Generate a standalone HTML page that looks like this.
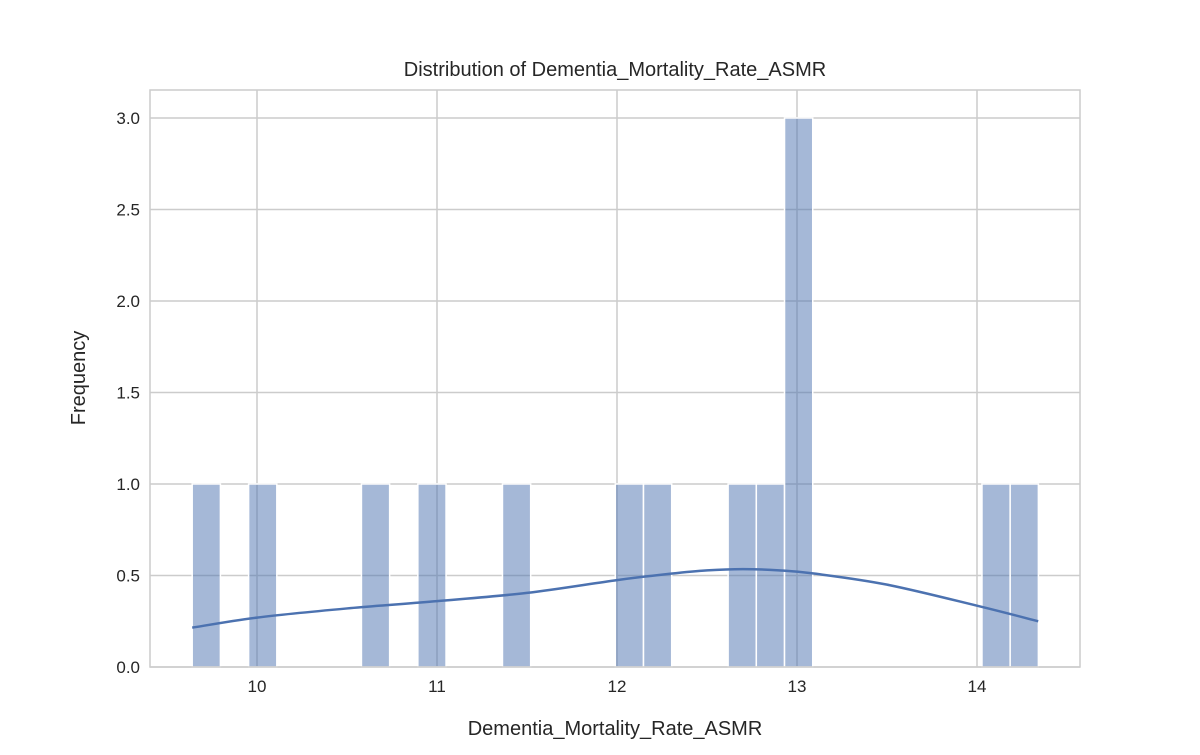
<!DOCTYPE html>
<html><head><meta charset="utf-8"><style>
body{margin:0;background:#fff;}
text{font-family:"Liberation Sans","DejaVu Sans",sans-serif;fill:#262626;}
</style></head><body>
<svg id="chart" width="1200" height="750">
<rect x="150" y="90" width="930" height="577" fill="#fff"/>
<g id="grid"></g>
<g id="bars"></g>
<path id="kde" fill="none" stroke="#4c72b0" stroke-width="2.5"/>
<rect x="150" y="90" width="930" height="577" fill="none" stroke="#cccccc" stroke-width="1.5"/>
<g id="ticks"></g>
<text x="615" y="76" text-anchor="middle" font-size="20">Distribution of Dementia_Mortality_Rate_ASMR</text>
<text x="615" y="735" text-anchor="middle" font-size="20">Dementia_Mortality_Rate_ASMR</text>
<text x="85" y="378" text-anchor="middle" font-size="20" transform="rotate(-90 85 378)">Frequency</text>
</svg>
<script>
const binStart = 9.64;
const binWidth = 0.1567;
const counts = [1,0,1,0,0,0,1,0,1,0,0,1,0,0,0,1,1,0,0,1,1,3,0,0,0,0,0,0,1,1];
const xTicks = [10,11,12,13,14];
const yTicks = [0,0.5,1.0,1.5,2.0,2.5,3.0];
const kdeX = [9.64,10,10.5,11,11.5,12,12.3,12.5,12.7,12.9,13.1,13.5,14,14.34];
const kdeY = [0.215,0.27,0.32,0.36,0.405,0.475,0.51,0.528,0.535,0.528,0.51,0.45,0.335,0.25];
const NS="http://www.w3.org/2000/svg";
const xs=v=>257+(v-10)*180;
const ys=v=>667-v*183;
function mk(t,a,p){const e=document.createElementNS(NS,t);for(const k in a)e.setAttribute(k,a[k]);p.appendChild(e);return e;}
const grid=document.getElementById('grid'),ticks=document.getElementById('ticks'),bars=document.getElementById('bars');
xTicks.forEach(v=>{
  const l=mk('line',{x1:xs(v),x2:xs(v),y1:90,y2:667,stroke:'#cccccc','stroke-width':1.5},grid);
  
  
  const t=mk('text',{x:xs(v),y:692,'text-anchor':'middle','font-size':17},ticks);
  t.textContent=v;
  
  
});
yTicks.forEach(v=>{
  const l=mk('line',{x1:150,x2:1080,y1:ys(v),y2:ys(v),stroke:'#cccccc','stroke-width':1.5},grid);
  
  
  const t=mk('text',{x:140,y:ys(v)+6,'text-anchor':'end','font-size':17},ticks);
  t.textContent=v.toFixed(1);
  
  
});
counts.forEach((c,i)=>{
  if(!c)return;
  const x0=xs(binStart+i*binWidth),x1=xs(binStart+(i+1)*binWidth);
  const r=mk('rect',{x:x0,y:ys(c),width:x1-x0,height:ys(0)-ys(c),fill:'rgba(76,114,176,0.5)',stroke:'#fff','stroke-width':1.5},bars);
  
  
});
const pts=kdeX.map((x,i)=>[xs(x),ys(kdeY[i])]);
let d='M'+pts[0].join(',');
for(let i=0;i<pts.length-1;i++){
  const p0=pts[Math.max(0,i-1)],p1=pts[i],p2=pts[i+1],p3=pts[Math.min(pts.length-1,i+2)];
  const c1=[p1[0]+(p2[0]-p0[0])/6,p1[1]+(p2[1]-p0[1])/6];
  const c2=[p2[0]-(p3[0]-p1[0])/6,p2[1]-(p3[1]-p1[1])/6];
  d+=' C'+c1.join(',')+' '+c2.join(',')+' '+p2.join(',');
}
document.getElementById('kde').setAttribute('d',d);
</script>
</body></html>
